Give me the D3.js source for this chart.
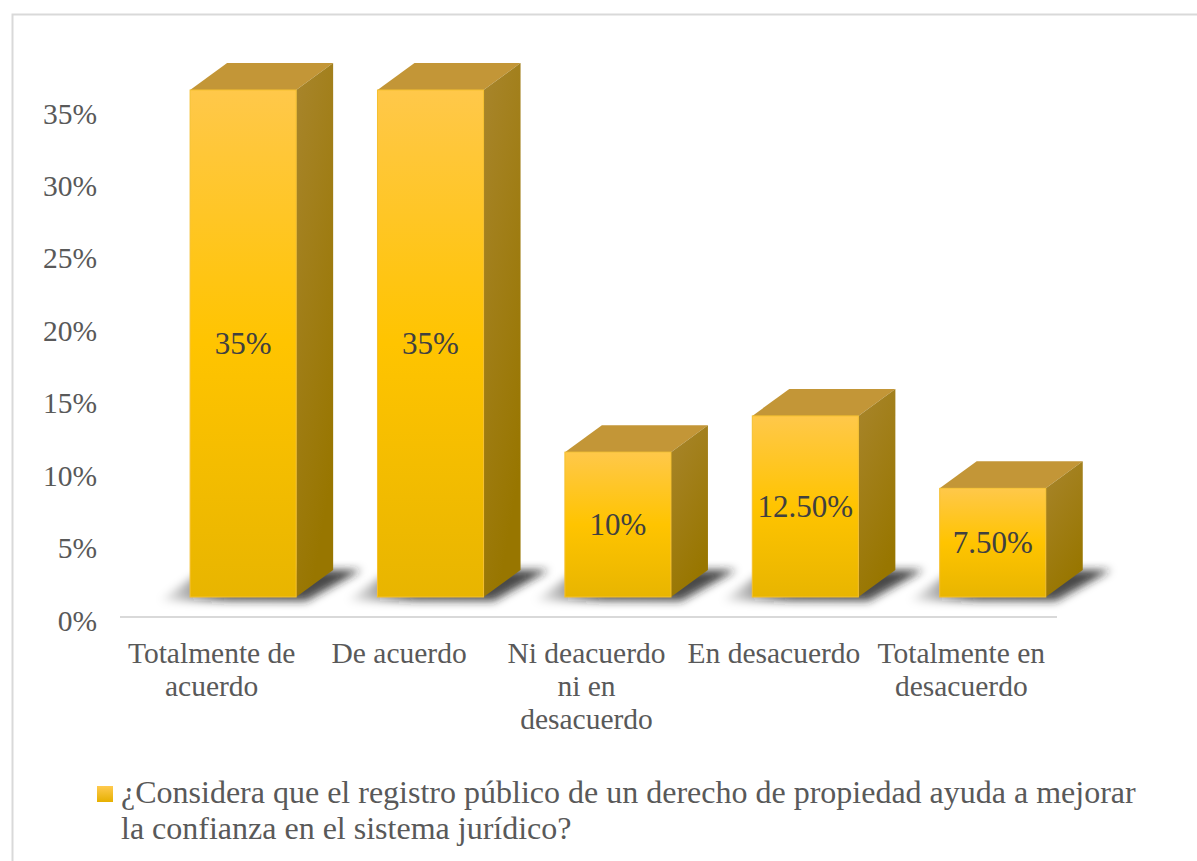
<!DOCTYPE html>
<html lang="es">
<head>
<meta charset="UTF-8">
<title>Registro público</title>
<style>
    body { margin: 0; background: #fff; }
    svg { display: block; }
    svg text { font-family: 'Liberation Serif', 'Times New Roman', serif; }
    .axisY text { fill: #595959; font-size: 29.5px; }
    .catText { fill: #595959; font-size: 29.5px; }
    .barText { fill: #404040; font-size: 31px; }
    .legendText { fill: #595959; font-size: 32px; }
</style>
</head>
<body>
<div id="chart"></div>
<script src="https://cdnjs.cloudflare.com/ajax/libs/d3/7.8.5/d3.min.js"></script>
<script>
    // datos
    const categories = ['Totalmente de acuerdo', 'De acuerdo', 'Ni deacuerdo ni en desacuerdo', 'En desacuerdo', 'Totalmente en desacuerdo'];
    const values = [0.35, 0.35, 0.10, 0.125, 0.075];
    const valueLabels = ['35%', '35%', '10%', '12.50%', '7.50%'];
    const yTicks = [0, 0.05, 0.10, 0.15, 0.20, 0.25, 0.30, 0.35];
    const seriesName = '¿Considera que el registro público de un derecho de propiedad ayuda a mejorar la confianza en el sistema jurídico?';

    const W = 1197, H = 861;
    const depthX = 37, depthY = -27, lift = 23;
    const serif = "'Liberation Serif', 'Times New Roman', serif";

    const svg = d3.select('#chart').append('svg').attr('width', W).attr('height', H);
    const defs = svg.append('defs');

    const front = defs.append('linearGradient').attr('id', 'gFront').attr('x1', 0).attr('y1', 0).attr('x2', 0).attr('y2', 1);
    front.append('stop').attr('offset', '0%').attr('stop-color', '#ffc84a');
    front.append('stop').attr('offset', '50%').attr('stop-color', '#ffc400');
    front.append('stop').attr('offset', '100%').attr('stop-color', '#e8b500');

    const side = defs.append('linearGradient').attr('id', 'gSide').attr('x1', 0).attr('y1', 0).attr('x2', 0.4).attr('y2', 1);
    side.append('stop').attr('offset', '0%').attr('stop-color', '#a8852c');
    side.append('stop').attr('offset', '100%').attr('stop-color', '#987600');

    const shadowG = defs.append('linearGradient').attr('id', 'gShadow').attr('x1', 0).attr('y1', 0).attr('x2', 1).attr('y2', 0);
    shadowG.append('stop').attr('offset', '0%').attr('stop-color', '#000').attr('stop-opacity', 0);
    shadowG.append('stop').attr('offset', '35%').attr('stop-color', '#222').attr('stop-opacity', 0.75);
    shadowG.append('stop').attr('offset', '100%').attr('stop-color', '#222').attr('stop-opacity', 0.85);

    defs.append('filter').attr('id', 'blur').attr('x', '-20%').attr('y', '-50%').attr('width', '140%').attr('height', '200%')
        .append('feGaussianBlur').attr('stdDeviation', 4);

    const legendG = defs.append('linearGradient').attr('id', 'gLegend').attr('x1', 0).attr('y1', 0).attr('x2', 0).attr('y2', 1);
    legendG.append('stop').attr('offset', '0%').attr('stop-color', '#ffca4f');
    legendG.append('stop').attr('offset', '100%').attr('stop-color', '#e6b000');

    // marco del gráfico
    svg.append('rect').attr('x', 12.5).attr('y', 14.5).attr('width', W).attr('height', H)
        .attr('fill', '#fff').attr('stroke', '#d9d9d9').attr('stroke-width', 2);

    const x = d3.scaleBand().domain(categories).range([120, 1057]);
    const y = d3.scaleLinear().domain([0, 0.35]).range([620, 113]);
    const step = x.step();
    const barOff = step * 0.374, barW = step * 0.566;

    // eje Y
    const axisY = svg.append('g').attr('class', 'axisY').attr('transform', 'translate(97,0)')
        .call(d3.axisLeft(y).tickValues(yTicks).tickFormat(d3.format('.0%')).tickSize(0).tickPadding(0));
    axisY.attr('font-family', serif).attr('font-size', null);
    axisY.select('.domain').remove();
    axisY.selectAll('text').attr('dy', '0.34em');

    // línea base
    svg.append('line').attr('x1', 120).attr('x2', 1057).attr('y1', y(0) - 3).attr('y2', y(0) - 3)
        .attr('stroke', '#d9d9d9').attr('stroke-width', 2);

    const bars = svg.selectAll('.bar').data(categories).enter().append('g').attr('class', 'bar');

    // sombra
    bars.append('path')
        .attr('d', function (d) {
            const x0 = x(d) + barOff, b = y(0) - lift + 4;
            return 'M' + (x0 - 32) + ',' + b + 'L' + (x0 + barW + 10) + ',' + b +
                'L' + (x0 + barW + depthX + 28) + ',' + (b + depthY - 4) +
                'L' + (x0 + 14) + ',' + (b + depthY - 4) + 'Z';
        })
        .attr('fill', 'url(#gShadow)').attr('filter', 'url(#blur)');

    // cara superior
    bars.append('path')
        .attr('d', function (d, i) {
            const x0 = x(d) + barOff, t = y(values[i]) - lift;
            return 'M' + x0 + ',' + t + 'L' + (x0 + depthX) + ',' + (t + depthY) +
                'L' + (x0 + barW + depthX) + ',' + (t + depthY) + 'L' + (x0 + barW) + ',' + t + 'Z';
        })
        .attr('fill', '#c39637');

    // cara lateral
    bars.append('path')
        .attr('d', function (d, i) {
            const x1 = x(d) + barOff + barW, t = y(values[i]) - lift, b = y(0) - lift;
            return 'M' + x1 + ',' + t + 'L' + (x1 + depthX) + ',' + (t + depthY) +
                'L' + (x1 + depthX) + ',' + (b + depthY) + 'L' + x1 + ',' + b + 'Z';
        })
        .attr('fill', 'url(#gSide)');

    // cara frontal
    bars.append('rect')
        .attr('x', function (d) { return x(d) + barOff; })
        .attr('y', function (d, i) { return y(values[i]) - lift; })
        .attr('width', barW)
        .attr('height', function (d, i) { return y(0) - y(values[i]); })
        .attr('fill', 'url(#gFront)')
        .attr('stroke', '#f5c030').attr('stroke-width', 1);

    // etiquetas de datos
    bars.append('text')
        .attr('class', 'barText')
        .attr('font-family', serif)
        .attr('x', function (d) { return x(d) + barOff + barW / 2; })
        .attr('y', function (d, i) { return (y(values[i]) + y(0)) / 2 - lift; })
        .attr('dy', '0.34em')
        .attr('text-anchor', 'middle')
        .text(function (d, i) { return valueLabels[i]; });

    // ajuste de texto en varias líneas
    function wrap(textSel, maxW, lineH) {
        textSel.each(function () {
            const t = d3.select(this);
            const words = t.text().split(/\s+/);
            const xx = t.attr('x');
            t.text(null);
            let line = [];
            let ts = t.append('tspan').attr('x', xx).attr('dy', 0);
            words.forEach(function (w) {
                line.push(w);
                ts.text(line.join(' '));
                if (ts.node().getComputedTextLength() > maxW && line.length > 1) {
                    line.pop();
                    ts.text(line.join(' '));
                    line = [w];
                    ts = t.append('tspan').attr('x', xx).attr('dy', lineH).text(w);
                }
            });
        });
    }

    // etiquetas de categorías
    svg.selectAll('.catText').data(categories).enter().append('text')
        .attr('class', 'catText')
        .attr('font-family', serif)
        .attr('x', function (d) { return x(d) + step / 2 - 2; })
        .attr('y', 663)
        .attr('text-anchor', 'middle')
        .text(function (d) { return d; })
        .call(wrap, 180, 33);

    // leyenda
    svg.append('rect').attr('x', 97).attr('y', 786).attr('width', 16).attr('height', 16).attr('fill', 'url(#gLegend)');
    svg.append('text').attr('class', 'legendText').attr('font-family', serif).attr('x', 121).attr('y', 803)
        .text(seriesName)
        .call(wrap, 1040, 36);
</script>
</body>
</html>
